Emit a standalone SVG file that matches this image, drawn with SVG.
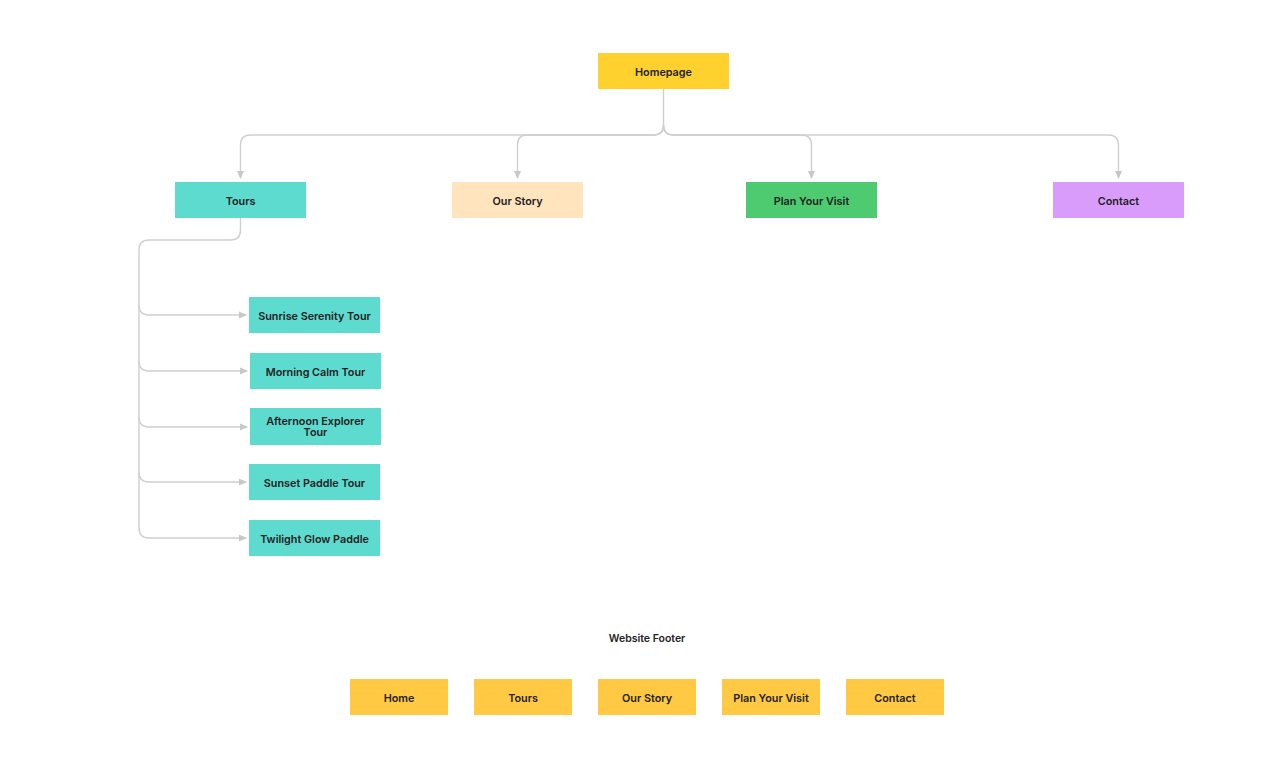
<svg xmlns="http://www.w3.org/2000/svg" width="1280" height="778" viewBox="0 0 1280 778">
<defs>
<marker id="arr" markerWidth="8" markerHeight="8" refX="7" refY="4" orient="auto" markerUnits="userSpaceOnUse">
<path d="M0,0.5 L8,4 L0,7.5 Z" fill="#c8c8c8"/>
</marker>
<style>
.lbl{font-family:Inter,"Liberation Sans",sans-serif;font-size:10.8px;font-weight:600;fill:#222;text-anchor:middle;dominant-baseline:central}
.c{fill:none;stroke:#cfcfcf;stroke-width:1.4}
.teal{fill:#5DDBCF}
.foot{fill:#FFC943}
</style>
</defs>
<rect width="1280" height="778" fill="#fff"/>
<g id="connectors">
<path class="c" d="M663.5,89 V125 Q663.5,135 653.5,135 H250.5 Q240.5,135 240.5,145 V178" marker-end="url(#arr)"/>
<path class="c" d="M663.5,125 Q663.5,135 653.5,135 H527.5 Q517.5,135 517.5,145 V178" marker-end="url(#arr)"/>
<path class="c" d="M663.5,125 Q663.5,135 673.5,135 H801.5 Q811.5,135 811.5,145 V178" marker-end="url(#arr)"/>
<path class="c" d="M663.5,125 Q663.5,135 673.5,135 H1108.5 Q1118.5,135 1118.5,145 V178" marker-end="url(#arr)"/>
<path class="c" d="M240.5,218 V230 Q240.5,240 230.5,240 H149 Q139,240 139,250 V305 Q139,315 149,315 H246" marker-end="url(#arr)"/>
<path class="c" d="M139,305 V361 Q139,371 149,371 H247" marker-end="url(#arr)"/>
<path class="c" d="M139,361 V417 Q139,427 149,427 H247" marker-end="url(#arr)"/>
<path class="c" d="M139,417 V472 Q139,482 149,482 H246" marker-end="url(#arr)"/>
<path class="c" d="M139,472 V528 Q139,538 149,538 H246" marker-end="url(#arr)"/>
</g>
<g id="homepage"><rect x="598" y="53" width="131" height="36" fill="#FFD12F"/><text class="lbl" x="663.5" y="72">Homepage</text></g>
<g id="tours"><rect class="teal" x="175" y="182" width="131" height="36"/><text class="lbl" x="240.5" y="201">Tours</text></g>
<g id="our-story"><rect x="452" y="182" width="131" height="36" fill="#FFE4BE"/><text class="lbl" x="517.5" y="201">Our Story</text></g>
<g id="plan-your-visit"><rect x="746" y="182" width="131" height="36" fill="#4ECB71"/><text class="lbl" x="811.5" y="201">Plan Your Visit</text></g>
<g id="contact"><rect x="1053" y="182" width="131" height="36" fill="#DA9CFB"/><text class="lbl" x="1118.5" y="201">Contact</text></g>
<g id="sunrise"><rect class="teal" x="249" y="297" width="131" height="36"/><text class="lbl" x="314.5" y="316">Sunrise Serenity Tour</text></g>
<g id="morning"><rect class="teal" x="250" y="353" width="131" height="36"/><text class="lbl" x="315.5" y="372">Morning Calm Tour</text></g>
<g id="afternoon"><rect class="teal" x="250" y="408" width="131" height="37"/><text class="lbl" x="315.5" y="421"><tspan x="315.5">Afternoon Explorer</tspan><tspan x="315.5" dy="11">Tour</tspan></text></g>
<g id="sunset"><rect class="teal" x="249" y="464" width="131" height="36"/><text class="lbl" x="314.5" y="483">Sunset Paddle Tour</text></g>
<g id="twilight"><rect class="teal" x="249" y="520" width="131" height="36"/><text class="lbl" x="314.5" y="539">Twilight Glow Paddle</text></g>
<g id="footer-title"><text class="lbl" x="647" y="638" style="font-size:10.5px">Website Footer</text></g>
<g id="footer-home"><rect class="foot" x="350" y="679" width="98" height="36"/><text class="lbl" x="399" y="698">Home</text></g>
<g id="footer-tours"><rect class="foot" x="474" y="679" width="98" height="36"/><text class="lbl" x="523" y="698">Tours</text></g>
<g id="footer-our-story"><rect class="foot" x="598" y="679" width="98" height="36"/><text class="lbl" x="647" y="698">Our Story</text></g>
<g id="footer-plan"><rect class="foot" x="722" y="679" width="98" height="36"/><text class="lbl" x="771" y="698">Plan Your Visit</text></g>
<g id="footer-contact"><rect class="foot" x="846" y="679" width="98" height="36"/><text class="lbl" x="895" y="698">Contact</text></g>
</svg>
